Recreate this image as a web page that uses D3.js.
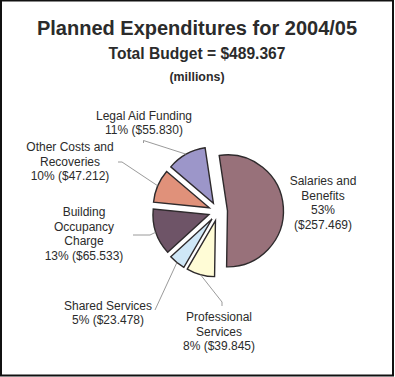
<!DOCTYPE html>
<html>
<head>
<meta charset="utf-8">
<script src="https://cdn.jsdelivr.net/npm/d3@7/dist/d3.min.js"></script>
<style>
  body { margin: 0; background: #fff; }
  text { font-family: 'Liberation Sans', Arial, sans-serif; fill: #2b2b2b; }
</style>
</head>
<body>
<div id="chart"></div>
<script>
// data
const categories = ['Salaries and Benefits', 'Professional Services', 'Shared Services',
  'Building Occupancy Charge', 'Other Costs and Recoveries', 'Legal Aid Funding']
const values = [257.469, 39.845, 23.478, 65.533, 47.212, 55.830]
const percents = ['53%', '8%', '5%', '13%', '10%', '11%']
const colors = ['#98717a', '#fffcd6', '#cfe7f7', '#6e5467', '#e0917a', '#9c96c9']

// label layout (how each label wraps and where it sits)
const labelLines = [
  ['Salaries and', 'Benefits'],
  ['Professional', 'Services'],
  ['Shared Services'],
  ['Building', 'Occupancy', 'Charge'],
  ['Other Costs and', 'Recoveries'],
  ['Legal Aid Funding']
]
const labelPos = [
  { x: 323, y: 185, lead: null, split: true },
  { x: 219, y: 321, lead: [[222, 306], [222, 302]] },
  { x: 108, y: 309.5, lead: [[155, 310]] },
  { x: 84, y: 216, lead: [[133, 235], [150, 235]] },
  { x: 70, y: 151, lead: [[118, 162], [122, 162]] },
  { x: 144, y: 119.5, lead: [[143.5, 143], [143.5, 140.5]] }
]

const width = 395, height = 377
const svg = d3.select('#chart').append('svg')
  .attr('width', width)
  .attr('height', height)

svg.append('rect')
  .attr('x', 1).attr('y', 0.5)
  .attr('width', 392).attr('height', 375)
  .attr('fill', '#fff')
  .attr('stroke', '#111')
  .attr('stroke-width', 2)

// titles
svg.append('text')
  .attr('x', 197).attr('y', 35)
  .attr('text-anchor', 'middle')
  .style('font-size', '20px').style('font-weight', 'bold')
  .text('Planned Expenditures for 2004/05')
svg.append('text')
  .attr('x', 197).attr('y', 59)
  .attr('text-anchor', 'middle')
  .style('font-size', '15.6px').style('font-weight', 'bold')
  .text('Total Budget = $' + d3.format('.3f')(d3.sum(values)))
svg.append('text')
  .attr('x', 197).attr('y', 81)
  .attr('text-anchor', 'middle')
  .style('font-size', '12.4px').style('font-weight', 'bold')
  .text('(millions)')

// pie
const cx = 218, cy = 211.5, radius = 56, explode = 9.5
const start = -8.5 * Math.PI / 180
const pie = d3.pie().sort(null).value(d => d)
  .startAngle(start).endAngle(start + 2 * Math.PI)
const arcs = pie(values)
const arc = d3.arc().innerRadius(0).outerRadius(radius)

function offset(d, r) {
  const a = (d.startAngle + d.endAngle) / 2
  return [Math.sin(a) * r, -Math.cos(a) * r]
}

const g = svg.append('g').attr('transform', 'translate(' + cx + ',' + cy + ')')

g.selectAll('path')
  .data(arcs)
  .enter()
  .append('path')
  .attr('transform', d => 'translate(' + offset(d, explode) + ')')
  .attr('d', arc)
  .attr('fill', (d, i) => colors[i])
  .attr('stroke', '#2e2a2c')
  .attr('stroke-width', 1.4)
  .attr('stroke-linejoin', 'miter')

// leader lines
arcs.forEach(function(d, i) {
  const p = labelPos[i]
  if (!p.lead) return
  const o = offset(d, explode)
  const e = offset(d, radius)
  const pts = p.lead.map(q => [q[0] - cx, q[1] - cy])
  pts.push([o[0] + e[0], o[1] + e[1]])
  g.append('path')
    .attr('d', d3.line()(pts))
    .attr('fill', 'none')
    .attr('stroke', '#808080')
    .attr('stroke-width', 0.8)
})

// labels
const lh = 14.7
arcs.forEach(function(d, i) {
  const p = labelPos[i]
  const val = '($' + d3.format('.3f')(values[i]) + ')'
  let lines = labelLines[i].slice()
  if (p.split) lines.push(percents[i], val)
  else lines.push(percents[i] + ' ' + val)
  const t = svg.append('text')
    .attr('text-anchor', 'middle')
    .style('font-size', '12px')
  lines.forEach(function(l, j) {
    t.append('tspan')
      .attr('x', p.x)
      .attr('y', p.y + j * lh)
      .text(l)
  })
})
</script>
</body>
</html>
